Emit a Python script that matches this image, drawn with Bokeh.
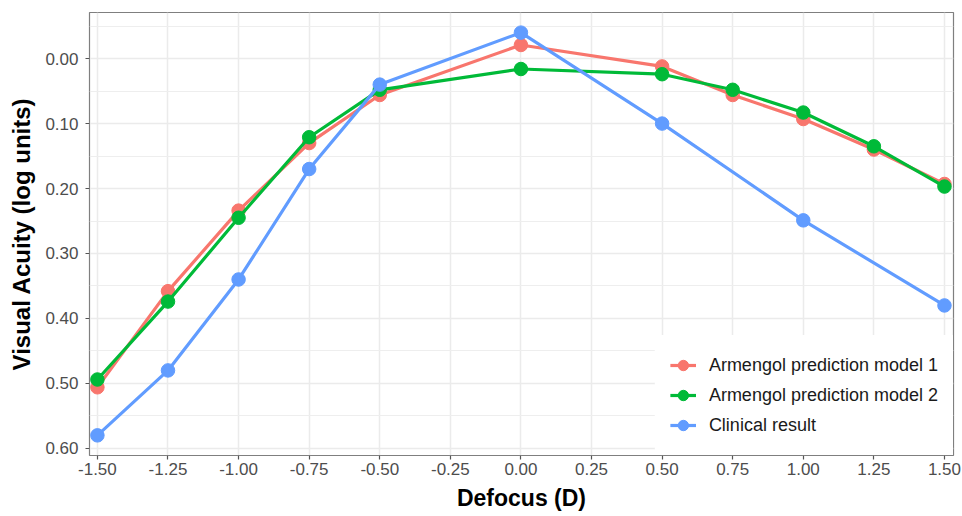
from bokeh.plotting import figure
from bokeh.models import Range1d, FixedTicker, PrintfTickFormatter, Legend, LegendItem
from bokeh.embed import file_html
from bokeh.resources import INLINE

# Data
x_model = [-1.5, -1.25, -1.0, -0.75, -0.5, 0.0, 0.5, 0.75, 1.0, 1.25, 1.5]
model1 = [0.506, 0.358, 0.234, 0.130, 0.056, -0.021, 0.012, 0.056, 0.093, 0.140, 0.193]
model2 = [0.494, 0.374, 0.245, 0.121, 0.048, 0.016, 0.024, 0.048, 0.083, 0.135, 0.197]
x_clin = [-1.5, -1.25, -1.0, -0.75, -0.5, 0.0, 0.5, 1.0, 1.5]
clinical = [0.580, 0.480, 0.340, 0.170, 0.040, -0.040, 0.100, 0.249, 0.380]

series_names = ["Armengol prediction model 1", "Armengol prediction model 2", "Clinical result"]
colors = ["#F8766D", "#00BA38", "#619CFF"]

x_ticks = [-1.5, -1.25, -1.0, -0.75, -0.5, -0.25, 0.0, 0.25, 0.5, 0.75, 1.0, 1.25, 1.5]
y_ticks = [0.0, 0.1, 0.2, 0.3, 0.4, 0.5, 0.6]
y_minor = [-0.05, 0.05, 0.15, 0.25, 0.35, 0.45, 0.55]

FONT = "Liberation Sans"

p = figure(width=962, height=516, output_backend="svg", toolbar_location=None,
           x_range=Range1d(-1.528, 1.532), y_range=Range1d(0.611, -0.071),
           min_border_left=89, min_border_right=9, min_border_top=12, min_border_bottom=61)

p.outline_line_color = "#7f7f7f"
p.outline_line_width = 1.2
p.background_fill_color = "white"
p.border_fill_color = "white"

p.xaxis.ticker = FixedTicker(ticks=x_ticks, minor_ticks=[])
p.yaxis.ticker = FixedTicker(ticks=y_ticks, minor_ticks=y_minor)
p.xaxis.formatter = PrintfTickFormatter(format="%.2f")
p.yaxis.formatter = PrintfTickFormatter(format="%.2f")

for ax in (p.xaxis, p.yaxis):
    ax.axis_line_color = None
    ax.major_tick_line_color = "#555555"
    ax.major_tick_line_width = 1.2
    ax.major_tick_out = 4
    ax.major_tick_in = 0
    ax.minor_tick_line_color = None
    ax.major_label_text_font = FONT
    ax.major_label_text_font_size = "17px"
    ax.major_label_text_color = "#4d4d4d"
    ax.axis_label_text_font = FONT
    ax.axis_label_text_font_style = "bold"
    ax.axis_label_text_color = "black"

p.xaxis.axis_label = "Defocus (D)"
p.yaxis.axis_label = "Visual Acuity (log units)"
p.xaxis.axis_label_text_font_size = "23px"
p.yaxis.axis_label_text_font_size = "24px"
p.xaxis.major_label_standoff = 3
p.xaxis.axis_label_standoff = 7
p.yaxis.major_label_standoff = 7
p.yaxis.axis_label_standoff = 7

p.xgrid.grid_line_color = "#ebebeb"
p.xgrid.grid_line_width = 1.5
p.ygrid.grid_line_color = "#ebebeb"
p.ygrid.grid_line_width = 1.5
p.ygrid.minor_grid_line_color = "#eeeeee"
p.ygrid.minor_grid_line_width = 1.2

items = []
for xs, ys, name, c in [(x_model, model1, series_names[0], colors[0]),
                        (x_model, model2, series_names[1], colors[1]),
                        (x_clin, clinical, series_names[2], colors[2])]:
    r1 = p.line(xs, ys, line_color=c, line_width=3.2)
    r2 = p.scatter(xs, ys, size=13.5, fill_color=c, line_color=c)
    items.append(LegendItem(label=name, renderers=[r1, r2]))

# white border acts as the legend's inner padding
legend = Legend(items=items, location="bottom_right", margin=0, padding=0,
                spacing=0, glyph_width=26, glyph_height=30, label_height=30,
                label_width=227, label_standoff=13,
                border_line_color="white", border_line_width=15, border_line_alpha=1.0,
                background_fill_color="white", background_fill_alpha=1.0,
                label_text_font=FONT, label_text_font_size="18px",
                label_text_color="#1a1a1a")
p.add_layout(legend, "center")

open("out.html", "w").write(file_html(p, INLINE))
